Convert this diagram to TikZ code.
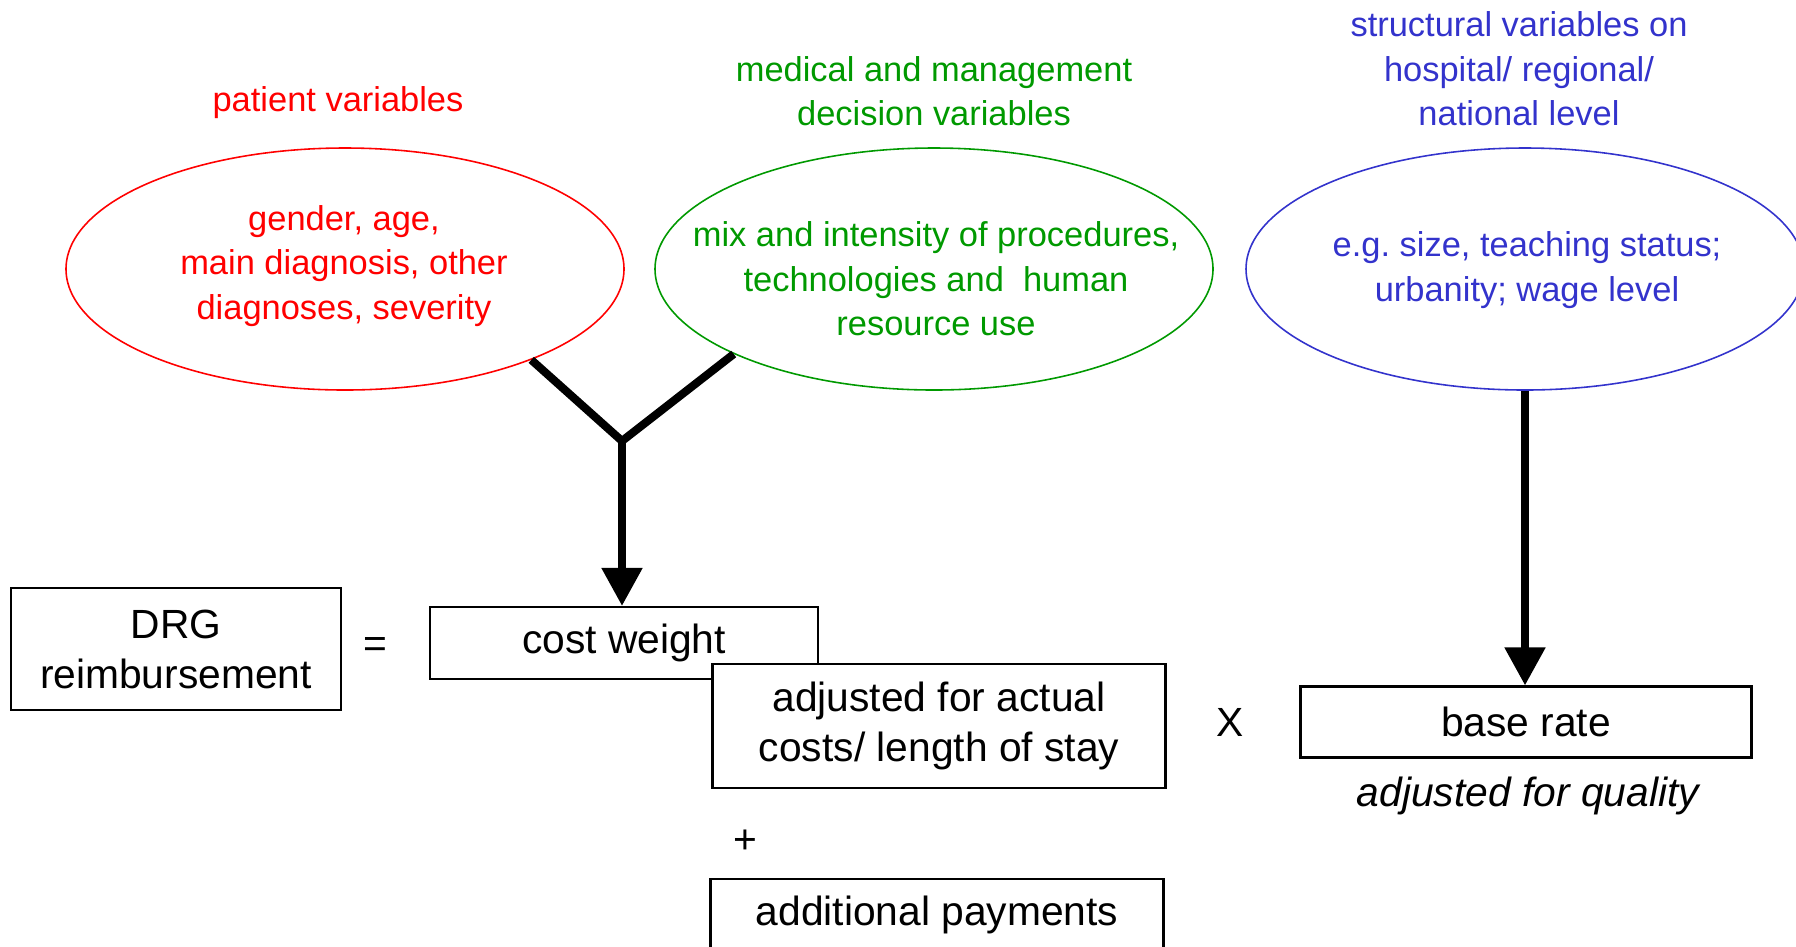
\documentclass[tikz,border=0pt]{standalone}
\usepackage{fontspec}
\setmainfont{Liberation Sans}
\usepackage{tikz}
\usetikzlibrary{shapes.geometric,arrows.meta}
\definecolor{patred}{RGB}{255,0,0}
\definecolor{medgreen}{RGB}{0,153,0}
\definecolor{strblue}{RGB}{51,51,204}

\begin{document}
\begin{tikzpicture}[
    varell/.style={draw=#1,ellipse,line width=0.45pt,minimum width=5.58cm,minimum height=2.42cm,inner sep=0pt},
    vartxt/.style={text=#1,align=center,font=\fontsize{9.8}{12.7}\selectfont},
    calcbox/.style={draw,line width=0.6pt,fill=white,inner sep=0pt,align=center,font=\fontsize{11.6}{14.2}\selectfont},
    calcsign/.style={font=\fontsize{11.6}{14.2}\selectfont},
    feed/.style={line width=2.3pt},
    feedtip/.style={-{Triangle[length=3.8mm,width=3.9mm]}},
]
        \useasboundingbox (0,0) rectangle (17.96,-9.46);
        \draw (3.38,-1.03) node[vartxt=patred](patlab) {patient variables};
        \draw (9.34,-0.91) node[vartxt=medgreen](medlab) {medical and management\\decision variables};
        \draw (15.19,-0.69) node[vartxt=strblue](strlab) {structural variables on\\hospital/ regional/\\national level};
        \draw (3.45,-2.69) node[varell=patred](patell) {};
        \draw (9.34,-2.69) node[varell=medgreen](medell) {};
        \draw (15.25,-2.69) node[varell=strblue](strell) {};
        \draw (3.44,-2.66) node[vartxt=patred](pattxt) {gender, age,\\main diagnosis, other\\diagnoses, severity};
        \draw (9.36,-2.79) node[vartxt=medgreen](medtxt) {mix and intensity of procedures,\\technologies and\ \ human\\resource use};
        \draw (15.27,-2.70) node[vartxt=strblue](strtxt) {e.g.\ size, teaching status;\\urbanity;\ wage level};
        \draw (1.76,-6.49) node[calcbox,minimum width=3.30cm,minimum height=1.22cm](drg) {DRG\\reimbursement};
        \draw (3.75,-6.47) node[calcsign](eq) {=};
        \draw (6.24,-6.43) node[calcbox,minimum width=3.88cm,minimum height=0.72cm](costw) {cost weight};
        \draw (9.39,-7.26) node[calcbox,minimum width=4.53cm,minimum height=1.24cm](adjust) {adjusted for actual\\costs/ length of stay};
        \draw (7.45,-8.42) node[calcsign](plus) {+};
        \draw (9.37,-9.15) node[calcbox,minimum width=4.53cm,minimum height=0.72cm](addpay) {additional payments};
        \draw (12.30,-7.22) node[calcsign](times) {X};
        \draw (15.26,-7.22) node[calcbox,minimum width=4.51cm,minimum height=0.71cm](base) {base rate};
        \draw (15.28,-7.96) node[calcsign,font=\fontsize{11.6}{14.2}\selectfont\itshape](quality) {adjusted for quality};
        \coordinate (join) at (6.22,-4.41);
        \draw[feed] (patell.-26) -- (join) -- (medell.-157);
        \draw[feed,feedtip] (join) -- (join |- costw.north);
        \draw[feed,feedtip] (strell.south) -- (strell.south |- base.north);
\end{tikzpicture}
\end{document}
